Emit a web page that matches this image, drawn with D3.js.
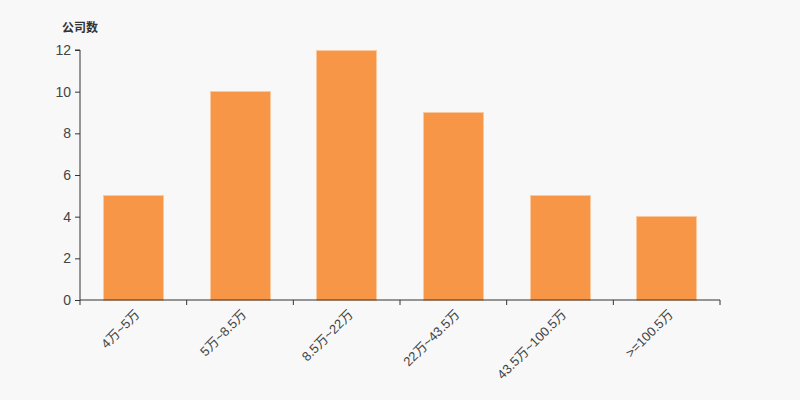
<!DOCTYPE html>
<html><head><meta charset="utf-8">
<script src="https://cdn.jsdelivr.net/npm/d3@7"></script>
<style>body{margin:0;background:#f8f8f8;}svg{display:block;}</style>
</head><body>
<script>
const categories = ["4万~5万","5万~8.5万","8.5万~22万","22万~43.5万","43.5万~100.5万",">=100.5万"];
const values = [5,10,12,9,5,4];
const yTicks = [0,2,4,6,8,10,12];
const yTitle = "公司数";

const W=800,H=400,m={l:80,r:80,t:50,b:100};
const svg=d3.select("body").append("svg").attr("width",W).attr("height",H).style("background","#f8f8f8");
const x=d3.scaleBand().domain(categories).range([m.l,W-m.r]);
const y=d3.scaleLinear().domain([0,12]).range([H-m.b,m.t]);
const font="'Liberation Sans',Arial,'Noto Sans CJK SC',sans-serif";
const bw=60;
svg.selectAll("rect.bar").data(values).enter().append("rect")
  .attr("x",(d,i)=>x(categories[i])+x.bandwidth()/2-bw/2)
  .attr("y",d=>y(d)).attr("width",bw).attr("height",d=>y(0)-y(d))
  .attr("fill","#f79646").attr("stroke","#fbc9a0").attr("stroke-width",1).attr("shape-rendering","crispEdges");

// y axis
const ya=svg.append("g").attr("transform",`translate(${m.l},0)`)
 .call(d3.axisLeft(y).tickValues(yTicks).tickSize(5).tickPadding(4).tickFormat(d3.format("d")));
ya.select(".domain").attr("stroke","#333").attr("d",`M-5,${y(12)}H0V${y(0)}`);
ya.selectAll(".tick line").attr("stroke","#333");
ya.selectAll("text").attr("fill","#444").style("font-size","14px").style("font-family",font);

// x axis
const xa=svg.append("g").attr("transform",`translate(0,${H-m.b})`);
xa.append("line").attr("x1",m.l).attr("x2",W-m.r).attr("stroke","#333");
const bounds=categories.map(c=>x(c)).concat([W-m.r]);
xa.selectAll("line.t").data(bounds).enter().append("line").attr("class","t")
  .attr("x1",d=>d).attr("x2",d=>d).attr("y1",0).attr("y2",5).attr("stroke","#333");
xa.selectAll("text").data(categories).enter().append("text")
  .attr("transform",d=>`translate(${x(d)+x.bandwidth()/2+4},${12}) rotate(-45)`)
  .attr("text-anchor","end").attr("dy","0.35em")
  .attr("fill","#444").style("font-size","13px").style("font-family",font).text(d=>d);

svg.append("text").attr("x",62).attr("y",32).text(yTitle)
  .attr("fill","#333").style("font-size","12px").style("font-weight","bold").style("font-family",font);
</script>
</body></html>
